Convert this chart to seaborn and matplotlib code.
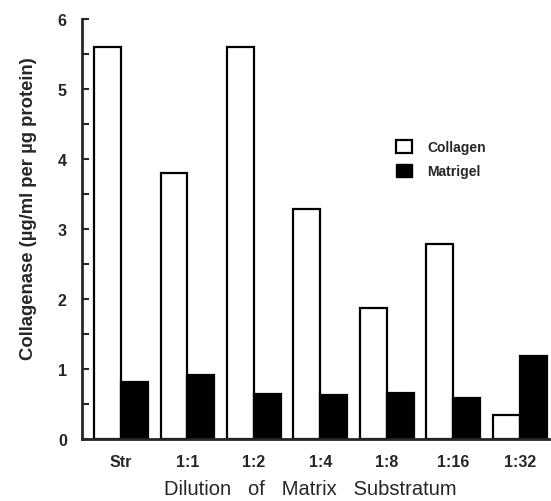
import pandas as pd
import seaborn as sns
import matplotlib.pyplot as plt
from matplotlib.patches import Patch
from matplotlib.ticker import MultipleLocator

# Data
dilutions = ["Str", "1:1", "1:2", "1:4", "1:8", "1:16", "1:32"]
collagen = [5.6, 3.8, 5.6, 3.28, 1.87, 2.78, 0.35]
matrigel = [0.81, 0.92, 0.64, 0.63, 0.66, 0.59, 1.19]
substrates = ["Collagen", "Matrigel"]

df = pd.DataFrame({
    "dilution": dilutions * 2,
    "substrate": [substrates[0]] * len(dilutions) + [substrates[1]] * len(dilutions),
    "value": collagen + matrigel,
})

sns.set_style("ticks")
plt.rcParams["font.family"] = ["Liberation Sans", "DejaVu Sans"]

fig = plt.figure(figsize=(5.51, 5.02), dpi=100)
ax = fig.add_axes([0.149, 0.1235, 0.851, 0.8367])

sns.barplot(data=df, x="dilution", y="value", hue="substrate", order=dilutions,
            hue_order=substrates, palette=["white", "black"], width=0.81, gap=0,
            edgecolor="black", linewidth=1.6, saturation=1, legend=False, ax=ax)

ax.set_ylim(0, 6)
ax.set_xlim(-0.585, 6.47)
ax.yaxis.set_major_locator(MultipleLocator(1))
ax.yaxis.set_minor_locator(MultipleLocator(0.5))
ax.tick_params(axis="y", which="both", direction="in", length=5, width=1.5,
               labelsize=11.5, pad=11)
ax.tick_params(axis="x", length=0, labelsize=11.5, pad=11)
for lab in ax.get_yticklabels() + ax.get_xticklabels():
    lab.set_fontweight("bold")

sns.despine(ax=ax)
ax.spines["left"].set_linewidth(2)
ax.spines["bottom"].set_linewidth(2)

ax.set_ylabel("Collagenase (µg/ml per µg protein)", fontsize=13.3,
              fontweight="bold", labelpad=15, y=0.55)
ax.set_xlabel("Dilution   of   Matrix   Substratum", fontsize=14.5,
              labelpad=7, x=0.487)

handles = [Patch(facecolor="white", edgecolor="black", linewidth=1.6),
           Patch(facecolor="black", edgecolor="black")]
leg = ax.legend(handles, substrates, loc="upper left", bbox_to_anchor=(0.642, 0.742),
                frameon=False, handlelength=1.2, handleheight=1.05,
                handletextpad=1.1, labelspacing=0.7,
                prop={"size": 10, "weight": "bold"})

fig.savefig("out.png", dpi=100)
